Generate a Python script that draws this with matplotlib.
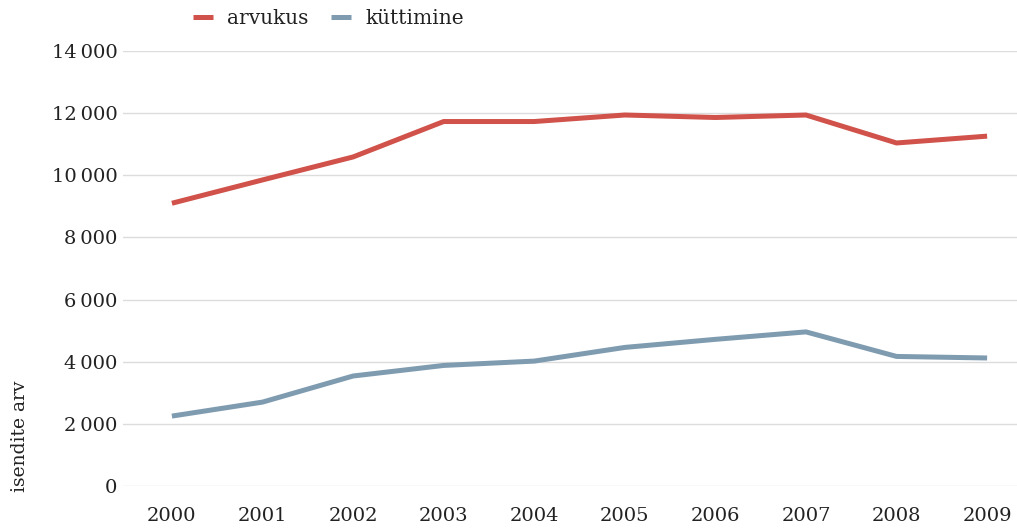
import matplotlib as mpl
import matplotlib.pyplot as plt
import numpy as np

RED = "#d0524a"
BLUE = "#7f9bb0"
GRID = "#dcdcdc"

years = ["2000", "2001", "2002", "2003", "2004", "2005", "2006", "2007", "2008", "2009"]
arvukus = [9100, 9850, 10590, 11730, 11730, 11940, 11860, 11940, 11040, 11260]
kuttimine = [2250, 2700, 3540, 3880, 4020, 4460, 4720, 4960, 4170, 4120]
yticks = [0, 2000, 4000, 6000, 8000, 10000, 12000, 14000]

mpl.rcParams.update({
    "font.family": "serif",
    "font.serif": ["DejaVu Serif"],
    "text.color": "#222222",
    "xtick.color": "#222222",
    "ytick.color": "#222222",
})

fig = plt.figure(figsize=(10.17, 5.28), dpi=100)
ax = fig.add_axes([123 / 1017, 42 / 528, 1 - 123 / 1017, 435 / 528])

x = np.arange(len(years))
ax.plot(x, arvukus, color=RED, lw=3.6, label="arvukus", solid_capstyle="butt")
ax.plot(x, kuttimine, color=BLUE, lw=3.6, label="küttimine", solid_capstyle="butt")

ax.set_ylim(0, 14000)
ax.set_xlim(-0.54, 9.33)
ax.set_yticks(yticks)
ax.set_yticklabels([f"{v:,}".replace(",", "\u2009") for v in yticks])
ax.set_xticks(x)
ax.set_xticklabels(years)
ax.tick_params(length=0, labelsize=14)
ax.tick_params(axis="y", pad=4)
ax.tick_params(axis="x", pad=15)
ax.grid(axis="y", color=GRID, lw=1)
ax.set_axisbelow(True)
for s in ax.spines.values():
    s.set_visible(False)

fig.text(20 / 1017, 36 / 528, "isendite arv", rotation=90, ha="center", va="bottom", fontsize=13.5)

fig.legend(loc="center left", bbox_to_anchor=(185 / 1017, 1 - 19 / 528), ncol=2, frameon=False,
           fontsize=14.5, handlelength=1.0, handletextpad=0.7, columnspacing=1.1, borderaxespad=0)

fig.savefig("out.png", dpi=100)
